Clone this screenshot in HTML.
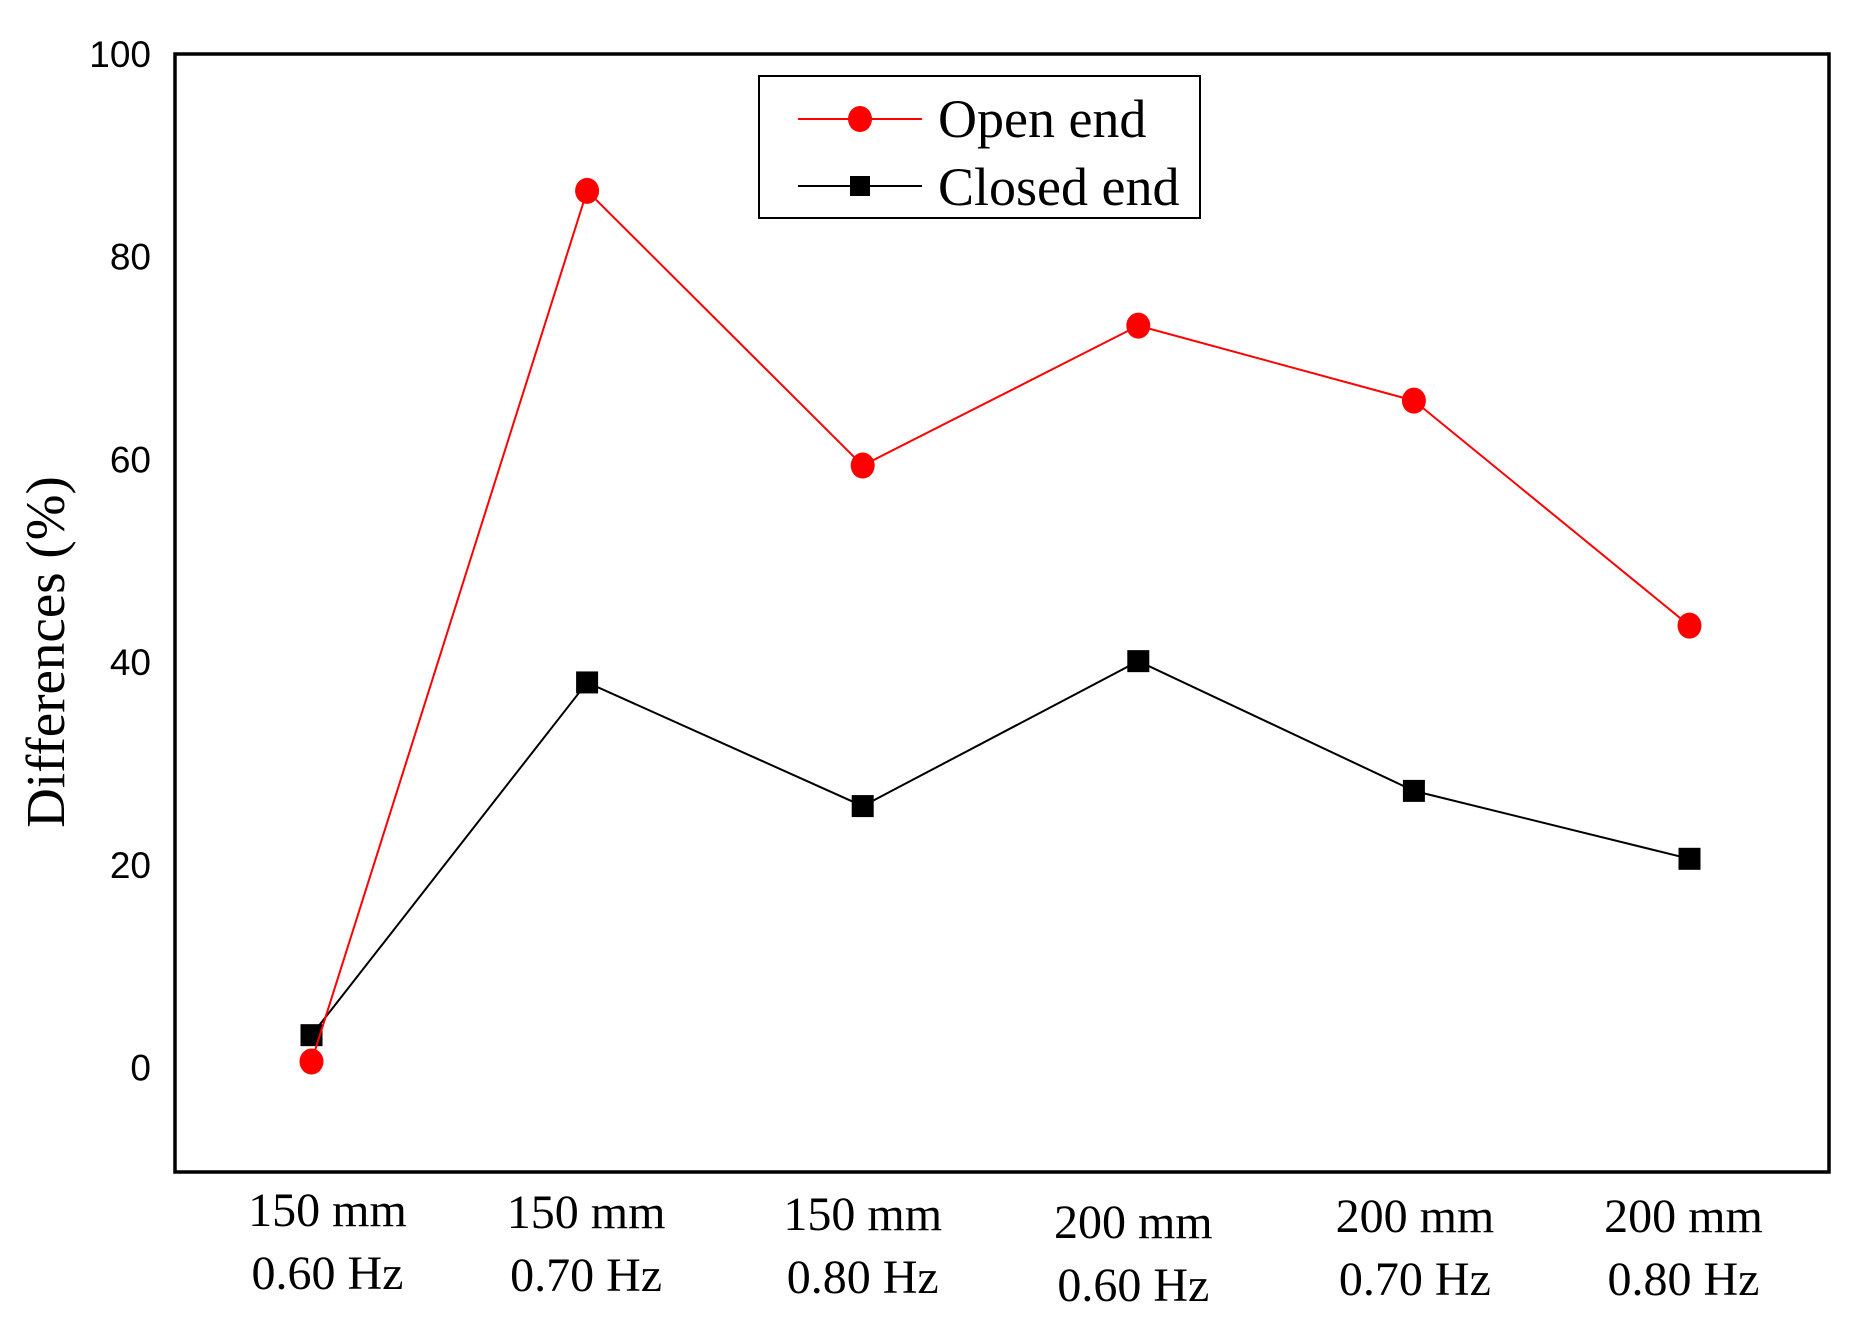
<!DOCTYPE html>
<html><head><meta charset="utf-8"><style>
html,body{margin:0;padding:0;background:#fff;}
svg{display:block;}
</style></head><body>
<svg id="chart" width="1850" height="1322" viewBox="0 0 1850 1322" xmlns="http://www.w3.org/2000/svg">
<rect x="0" y="0" width="1850" height="1322" fill="#fff"/>
<g id="plot"></g>
</svg>
<script>
const categoriesLine1 = ["150 mm","150 mm","150 mm","200 mm","200 mm","200 mm"];
const categoriesLine2 = ["0.60 Hz","0.70 Hz","0.80 Hz","0.60 Hz","0.70 Hz","0.80 Hz"];
const openEnd = [0.6, 86.5, 59.4, 73.2, 65.8, 43.6];
const closedEnd = [3.2, 38.0, 25.8, 40.1, 27.3, 20.6];
const yTicks = [0, 20, 40, 60, 80, 100];

const NS = "http://www.w3.org/2000/svg";
const L = 175, R = 1829, T = 54, B = 1172;
const yMin = -10.3, yMax = 100;
const x0 = 311.5, xStep = 275.6;
const labelDx = [16, -1, 0, -5, 1, -6];
const labelDy = [0, 2, 4, 12, 6, 6];
function xs(i){ return x0 + i * xStep; }
function ys(v){ return B - (v - yMin) / (yMax - yMin) * (B - T); }
const g = document.getElementById('plot');
function mk(tag, attrs, parent){
  const e = document.createElementNS(NS, tag);
  for (const k in attrs) e.setAttribute(k, attrs[k]);
  (parent || g).appendChild(e);
  return e;
}

const frame = mk('rect', {x:L, y:T, width:R-L, height:B-T, fill:'none', stroke:'#000', 'stroke-width':3.5});



yTicks.forEach(v => {
  const t = mk('text', {x:151, y:ys(v)+13, 'text-anchor':'end', 'font-family':'Liberation Sans, sans-serif', 'font-size':37});
  t.textContent = v;
  
  
});

const yt = mk('text', {x:0, y:0, transform:'translate(64,652) rotate(-90)', 'text-anchor':'middle', 'font-family':'Liberation Serif, serif', 'font-size':55});
yt.textContent = 'Differences (%)';



categoriesLine1.forEach((c, i) => {
  const t1 = mk('text', {x:xs(i)+labelDx[i], y:1226+labelDy[i], 'text-anchor':'middle', 'font-family':'Liberation Serif, serif', 'font-size':48});
  t1.textContent = c;
  
  
  const t2 = mk('text', {x:xs(i)+labelDx[i], y:1289+labelDy[i], 'text-anchor':'middle', 'font-family':'Liberation Serif, serif', 'font-size':48});
  t2.textContent = categoriesLine2[i];
  
  
});

function series(vals, color, shape, name){
  const pts = vals.map((v,i) => xs(i) + ',' + ys(v)).join(' ');
  const pl = mk('polyline', {points:pts, fill:'none', stroke:color, 'stroke-width':2});
  
  
  vals.forEach((v,i) => {
    let m;
    if (shape === 'circle') m = mk('ellipse', {cx:xs(i), cy:ys(v), rx:12, ry:13, fill:color});
    else m = mk('rect', {x:xs(i)-11, y:ys(v)-11, width:22, height:22, fill:color});
    
    
  });
}
series(closedEnd, '#000', 'square', 'closed-end');
series(openEnd, '#ff0000', 'circle', 'open-end');

const lg = mk('g', {});


mk('rect', {x:759, y:76, width:441, height:142, fill:'#fff', stroke:'#000', 'stroke-width':2}, lg);
const e1 = mk('g', {}, lg);


mk('line', {x1:798, y1:119, x2:922, y2:119, stroke:'#ff0000', 'stroke-width':2}, e1);
mk('ellipse', {cx:860, cy:119, rx:12, ry:13, fill:'#ff0000'}, e1);
const lt1 = mk('text', {x:938, y:137, 'font-family':'Liberation Serif, serif', 'font-size':54}, e1);
lt1.textContent = 'Open end';
const e2 = mk('g', {}, lg);


mk('line', {x1:798, y1:186, x2:922, y2:186, stroke:'#000', 'stroke-width':2}, e2);
mk('rect', {x:850, y:176, width:20, height:20, fill:'#000'}, e2);
const lt2 = mk('text', {x:938, y:205, 'font-family':'Liberation Serif, serif', 'font-size':54}, e2);
lt2.textContent = 'Closed end';
</script>
</body></html>
